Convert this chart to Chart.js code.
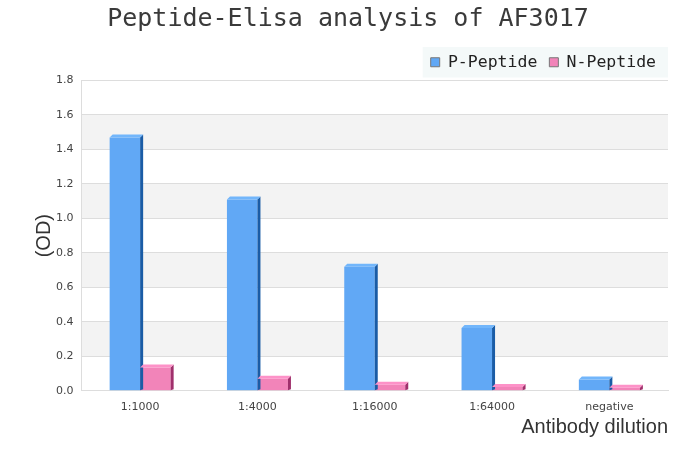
<!DOCTYPE html>
<html>
<head>
<meta charset="utf-8">
<script src="https://cdn.jsdelivr.net/npm/chart.js@4"></script>
<style>
  html, body { margin: 0; padding: 0; background: #fff; }
  #wrap { width: 700px; height: 450px; }
</style>
</head>
<body>
<div id="wrap"><canvas id="elisa-chart" width="700" height="450"></canvas></div>
<script>
// данные с картинки
const dilutions = ["1:1000", "1:4000", "1:16000", "1:64000", "negative"];
const pPeptide = [1.47, 1.11, 0.72, 0.365, 0.065];
const nPeptide = [0.135, 0.07, 0.035, 0.022, 0.018];
const yTicks = [0, 0.2, 0.4, 0.6, 0.8, 1.0, 1.2, 1.4, 1.6, 1.8];

// цвета граней: front, side, top
const faces = [
  { front: "#61a8f5", side: "#1a5ca6", top: "#72b6fb" },
  { front: "#f284b9", side: "#a0306c", top: "#fd92c8" },
];

// полосы фона и легенда с подложкой
const bgPlugin = {
  id: "bands",
  beforeDraw(chart) {
    const { ctx, chartArea, scales } = chart;
    const y = scales.y;
    ctx.save();
    for (let i = 0; i < yTicks.length - 1; i++) {
      if (i % 2 === 0) continue;
      const top = y.getPixelForValue(yTicks[i + 1]);
      const bot = y.getPixelForValue(yTicks[i]);
      ctx.fillStyle = "#f3f3f3";
      ctx.fillRect(chartArea.left, top, chartArea.right - chartArea.left, bot - top);
    }
    const lg = chart.legend;
    if (lg && lg.legendHitBoxes && lg.legendHitBoxes.length) {
      const boxes = lg.legendHitBoxes;
      const l = Math.min(...boxes.map((b) => b.left)) - 8;
      const r = Math.max(...boxes.map((b) => b.left + b.width)) + 12;
      const t = Math.min(...boxes.map((b) => b.top)) - 7;
      const b = Math.max(...boxes.map((b) => b.top + b.height)) + 7;
      ctx.fillStyle = "#f4f9f9";
      ctx.fillRect(l, t, r - l, b - t);
    }
    ctx.restore();
  },
};

// псевдо-3D: боковая и верхняя грань
const depthPlugin = {
  id: "depth",
  afterDatasetsDraw(chart) {
    const ctx = chart.ctx;
    const d = 3;
    chart.data.datasets.forEach((ds, di) => {
      const meta = chart.getDatasetMeta(di);
      const f = faces[di];
      meta.data.forEach((bar) => {
        const left = bar.x - bar.width / 2;
        const right = bar.x + bar.width / 2;
        const top = bar.y;
        const base = bar.base;
        ctx.save();
        ctx.fillStyle = f.side;
        ctx.beginPath();
        ctx.moveTo(right, top);
        ctx.lineTo(right + d, top - d);
        ctx.lineTo(right + d, base - 1);
        ctx.lineTo(right, base);
        ctx.closePath();
        ctx.fill();
        ctx.fillStyle = f.top;
        ctx.beginPath();
        ctx.moveTo(left, top);
        ctx.lineTo(left + d, top - d);
        ctx.lineTo(right + d, top - d);
        ctx.lineTo(right, top);
        ctx.closePath();
        ctx.fill();
        ctx.restore();
      });
    });
  },
};

const ctx = document.getElementById("elisa-chart").getContext("2d");
const elisaChart = new Chart(ctx, {
  type: "bar",
  data: {
    labels: dilutions,
    datasets: [
      {
        label: "P-Peptide",
        data: pPeptide,
        backgroundColor: faces[0].front,
        borderWidth: 0,
      },
      {
        label: "N-Peptide",
        data: nPeptide,
        backgroundColor: faces[1].front,
        borderWidth: 0,
      },
    ],
  },
  options: {
    responsive: false,
    animation: false,
    devicePixelRatio: 1,
    layout: { padding: { left: 28, right: 32, top: 4, bottom: 7 } },
    datasets: {
      bar: { categoryPercentage: 0.52, barPercentage: 1.0 },
    },
    plugins: {
      title: {
        display: true,
        text: "Peptide-Elisa analysis of AF3017",
        color: "#3a3a3a",
        font: { family: "DejaVu Sans Mono", size: 25, weight: "normal" },
        padding: { top: 0, bottom: 8 },
      },
      legend: {
        position: "top",
        align: "end",
        labels: {
          color: "#222",
          font: { family: "DejaVu Sans Mono", size: 16.5 },
          boxWidth: 9,
          boxHeight: 9,
          padding: 12,
          generateLabels(chart) {
            return chart.data.datasets.map((ds, i) => ({
              text: ds.label,
              fillStyle: ds.backgroundColor,
              strokeStyle: "#777",
              lineWidth: 1,
              fontColor: "#222",
              datasetIndex: i,
            }));
          },
        },
      },
      tooltip: { enabled: false },
    },
    scales: {
      x: {
        grid: { display: false },
        border: { color: "#ddd" },
        ticks: {
          color: "#444",
          font: { family: "DejaVu Sans", size: 11 },
          padding: 2,
        },
        title: {
          display: true,
          text: "Antibody dilution",
          align: "end",
          color: "#333",
          font: { family: "Liberation Sans", size: 20 },
          padding: { top: -1 },
        },
      },
      y: {
        min: 0,
        max: 1.8,
        grid: { color: "#ddd", drawTicks: false },
        border: { color: "#ddd" },
        ticks: {
          stepSize: 0.2,
          color: "#444",
          font: { family: "DejaVu Sans", size: 11 },
          padding: 8,
          callback: (v) => v.toFixed(1),
        },
        title: {
          display: true,
          text: "(OD)",
          color: "#333",
          font: { family: "Liberation Sans", size: 20 },
          padding: { bottom: -8 },
        },
      },
    },
  },
  plugins: [bgPlugin, depthPlugin],
});
</script>
</body>
</html>
